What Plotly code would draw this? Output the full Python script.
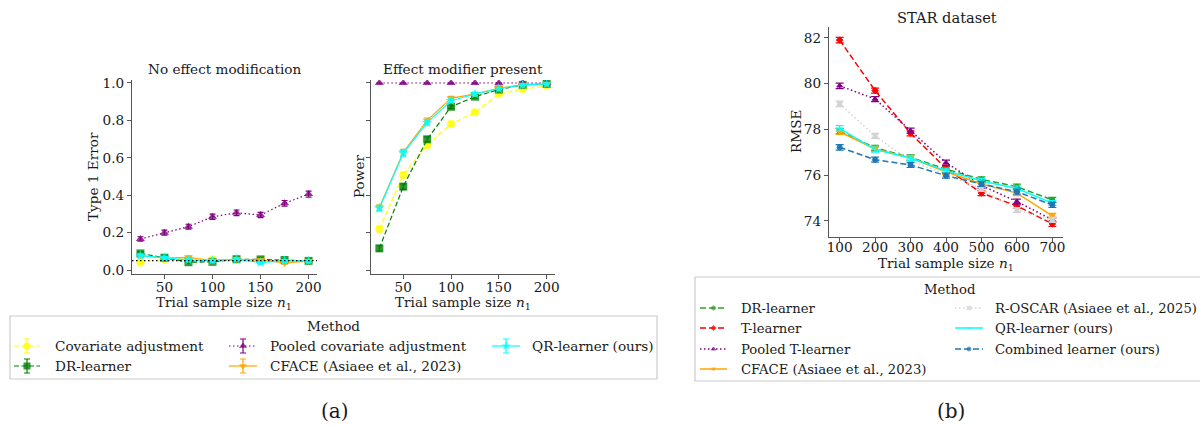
import plotly.graph_objects as go

# ---------------- data ----------------
n1_left = [25, 50, 75, 100, 125, 150, 175, 200]
alpha_level = 0.05

t1_cov = [0.041, 0.058, 0.060, 0.056, 0.057, 0.052, 0.050, 0.048]
t1_dr = [0.089, 0.066, 0.042, 0.044, 0.058, 0.057, 0.054, 0.049]
t1_pooled = [0.166, 0.200, 0.232, 0.285, 0.306, 0.294, 0.357, 0.406]
t1_cface = [0.077, 0.064, 0.068, 0.050, 0.057, 0.054, 0.038, 0.048]
t1_qr = [0.077, 0.066, 0.053, 0.050, 0.058, 0.040, 0.050, 0.049]
t1_err_small = [0.008, 0.007, 0.007, 0.007, 0.007, 0.007, 0.007, 0.007]
t1_err_pooled = [0.012, 0.013, 0.013, 0.014, 0.015, 0.014, 0.015, 0.016]

pow_cov = [0.219, 0.508, 0.668, 0.781, 0.843, 0.940, 0.968, 0.984]
pow_dr = [0.116, 0.446, 0.699, 0.873, 0.927, 0.965, 0.990, 0.995]
pow_pooled = [1.0, 1.0, 1.0, 1.0, 1.0, 1.0, 1.0, 1.0]
pow_cface = [0.335, 0.630, 0.800, 0.918, 0.942, 0.972, 0.990, 0.996]
pow_qr = [0.330, 0.624, 0.788, 0.905, 0.941, 0.970, 0.990, 0.995]
pow_err = [0.014, 0.015, 0.013, 0.010, 0.008, 0.006, 0.004, 0.003]
pow_err_pooled = [0.0, 0.0, 0.0, 0.0, 0.0, 0.0, 0.0, 0.0]

n1_right = [100, 200, 300, 400, 500, 600, 700]
rmse_dr = [77.93, 77.20, 76.78, 76.27, 75.82, 75.50, 74.92]
rmse_t = [81.91, 79.70, 77.83, 76.30, 75.22, 74.66, 73.87]
rmse_pooled = [79.91, 79.33, 77.95, 76.55, 75.55, 74.85, 74.05]
rmse_cface = [77.90, 77.15, 76.75, 76.15, 75.62, 75.22, 74.22]
rmse_roscar = [79.12, 77.72, 76.62, 76.05, 75.40, 74.48, 74.05]
rmse_qr = [78.05, 77.12, 76.75, 76.20, 75.75, 75.42, 74.78]
rmse_comb = [77.22, 76.68, 76.45, 75.98, 75.62, 75.28, 74.70]
rmse_err = [0.12, 0.11, 0.11, 0.11, 0.11, 0.11, 0.11]

left_names = ["Covariate adjustment", "DR-learner", "Pooled covariate adjustment",
              "CFACE (Asiaee et al., 2023)", "QR-learner (ours)"]
right_names = ["DR-learner", "T-learner", "Pooled T-learner", "CFACE (Asiaee et al., 2023)",
               "R-OSCAR (Asiaee et al., 2025)", "QR-learner (ours)", "Combined learner (ours)"]

# ---------------- styles ----------------
W, H = 1200, 426
FONT = "DejaVu Serif"
FS = 13.6
FS_LEG_R = 13.2
TXT = "#1a1a1a"
AX = "#555555"


def px(x):
    return x / W


def py(y):
    return 1 - y / H


DASH = "5px,2.5px"
DOT = "1.5px,2.5px"

left_style = [
    dict(color="yellow", symbol="circle", dash=DASH),
    dict(color="green", symbol="square", dash=DASH),
    dict(color="purple", symbol="triangle-up", dash=DOT),
    dict(color="orange", symbol="triangle-down", dash="solid"),
    dict(color="cyan", symbol="star", dash="solid"),
]
right_style = [
    dict(color="#2ca02c", symbol="circle", dash="6px,3px"),
    dict(color="red", symbol="diamond", dash="6px,3px"),
    dict(color="purple", symbol="triangle-up", dash=DOT),
    dict(color="orange", symbol="triangle-down", dash="solid"),
    dict(color="lightgray", symbol="x", dash=DOT),
    dict(color="cyan", symbol="line-ew", dash="solid"),
    dict(color="#1f77b4", symbol="circle", dash="6px,3px"),
]

fig = go.Figure()

t1_series = [(t1_cov, t1_err_small), (t1_dr, t1_err_small), (t1_pooled, t1_err_pooled),
             (t1_cface, t1_err_small), (t1_qr, t1_err_small)]
pow_series = [(pow_cov, pow_err), (pow_dr, pow_err), (pow_pooled, pow_err_pooled),
              (pow_cface, pow_err), (pow_qr, pow_err)]

for (ys, es), st in zip(t1_series, left_style):
    fig.add_trace(go.Scatter(
        x=n1_left, y=ys, mode="lines+markers", xaxis="x", yaxis="y",
        line=dict(color=st["color"], width=1.2, dash=st["dash"]),
        marker=dict(color=st["color"], symbol=st["symbol"], size=8, opacity=0.8,
                    line=dict(width=0)),
        error_y=dict(type="data", array=es, color=st["color"], thickness=1.2, width=3),
        showlegend=False))

for (ys, es), st in zip(pow_series, left_style):
    fig.add_trace(go.Scatter(
        x=n1_left, y=ys, mode="lines+markers", xaxis="x2", yaxis="y2",
        line=dict(color=st["color"], width=1.2, dash=st["dash"]),
        marker=dict(color=st["color"], symbol=st["symbol"], size=8, opacity=0.8,
                    line=dict(width=0)),
        error_y=dict(type="data", array=es, color=st["color"], thickness=1.2, width=3),
        showlegend=False))

rmse_series = [rmse_dr, rmse_t, rmse_pooled, rmse_cface, rmse_roscar, rmse_qr, rmse_comb]
for ys, st in zip(rmse_series, right_style):
    fig.add_trace(go.Scatter(
        x=n1_right, y=ys, mode="lines+markers", xaxis="x3", yaxis="y3",
        line=dict(color=st["color"], width=1.5, dash=st["dash"]),
        marker=dict(color=st["color"], symbol=st["symbol"], size=5,
                    line=dict(width=1, color=st["color"])),
        error_y=dict(type="data", array=rmse_err, color=st["color"], thickness=1.2, width=4),
        showlegend=False))

annotations = []
shapes = []

# reference line at the nominal alpha level in panel 1
shapes.append(dict(type="line", xref="x domain", yref="y", x0=0, x1=1,
                   y0=alpha_level, y1=alpha_level,
                   line=dict(color="black", width=1.2, dash="1.5px,2.5px"), layer="above"))

# legend frames
shapes.append(dict(type="rect", xref="paper", yref="paper", x0=px(10), x1=px(657),
                   y0=py(379), y1=py(316), line=dict(color="#cccccc", width=1.2),
                   fillcolor="rgba(0,0,0,0)", layer="above"))
shapes.append(dict(type="rect", xref="paper", yref="paper", x0=px(695), x1=px(1215),
                   y0=py(381), y1=py(277), line=dict(color="#cccccc", width=1.2),
                   fillcolor="rgba(0,0,0,0)", layer="above"))

# ---------------- legends (drawn on a pixel overlay axis) ----------------
legend_left_cols = [(14, 40, 53), (229, 257, 268), (492, 520, 530)]
legend_left_rows = [346, 366]
left_slots = [(0, 0), (0, 1), (1, 0), (1, 1), (2, 0)]

for name, st, (ci, ri) in zip(left_names, left_style, left_slots):
    x0, x1, xt = legend_left_cols[ci]
    yy = legend_left_rows[ri]
    fig.add_trace(go.Scatter(x=[x0, x1], y=[yy, yy], mode="lines", xaxis="x4", yaxis="y4",
                             line=dict(color=st["color"], width=1.2, dash=st["dash"]),
                             showlegend=False, hoverinfo="skip"))
    fig.add_trace(go.Scatter(x=[(x0 + x1) / 2], y=[yy], mode="markers", xaxis="x4", yaxis="y4",
                             marker=dict(color=st["color"], symbol=st["symbol"], size=7,
                                         opacity=0.8, line=dict(width=0)),
                             error_y=dict(type="data", array=[7], color=st["color"],
                                          thickness=1.2, width=3),
                             showlegend=False, hoverinfo="skip"))
    annotations.append(dict(x=px(xt), y=py(yy), xref="paper", yref="paper", text=name,
                            showarrow=False, xanchor="left", yanchor="middle",
                            font=dict(family=FONT, size=FS, color=TXT)))

annotations.append(dict(x=px(333), y=py(326), xref="paper", yref="paper", text="Method",
                        showarrow=False, xanchor="center", yanchor="middle",
                        font=dict(family=FONT, size=FS, color=TXT)))

legend_right_cols = [(700, 727, 739), (955, 983, 993)]
legend_right_rows = [308, 328, 349, 369]
right_slots = [(0, 0), (0, 1), (0, 2), (0, 3), (1, 0), (1, 1), (1, 2)]
for name, st, (ci, ri) in zip(right_names, right_style, right_slots):
    x0, x1, xt = legend_right_cols[ci]
    yy = legend_right_rows[ri]
    fig.add_trace(go.Scatter(x=[x0, (x0 + x1) / 2, x1], y=[yy, yy, yy], mode="lines+markers",
                             xaxis="x4", yaxis="y4",
                             line=dict(color=st["color"], width=1.5, dash=st["dash"]),
                             marker=dict(color=st["color"], symbol=st["symbol"], size=[0, 4, 0],
                                         line=dict(width=1, color=st["color"])),
                             showlegend=False, hoverinfo="skip"))
    annotations.append(dict(x=px(xt), y=py(yy), xref="paper", yref="paper", text=name,
                            showarrow=False, xanchor="left", yanchor="middle",
                            font=dict(family=FONT, size=FS_LEG_R, color=TXT)))

annotations.append(dict(x=px(950), y=py(289), xref="paper", yref="paper", text="Method",
                        showarrow=False, xanchor="center", yanchor="middle",
                        font=dict(family=FONT, size=FS_LEG_R, color=TXT)))

# ---------------- titles / axis labels ----------------
xlab = "Trial sample size <i>n</i><sub>1</sub>"
texts = [
    ("No effect modification", 224, 69, 0, FS),
    ("Effect modifier present", 463, 69, 0, FS),
    ("STAR dataset", 947, 17, 0, 14.6),
    (xlab, 224, 303, 0, FS),
    (xlab, 463, 303, 0, FS),
    (xlab, 946, 264, 0, FS),
    ("Type 1 Error", 93, 177, -90, FS),
    ("Power", 359, 177, -90, FS),
    ("RMSE", 796, 132, -90, FS),
]
for t, x, y, ang, fs in texts:
    annotations.append(dict(x=px(x), y=py(y), xref="paper", yref="paper", text=t,
                            showarrow=False, xanchor="center", yanchor="middle",
                            textangle=ang, font=dict(family=FONT, size=fs, color=TXT)))

for t, x in [("(a)", 335), ("(b)", 951)]:
    annotations.append(dict(x=px(x), y=py(411), xref="paper", yref="paper", text=t,
                            showarrow=False, xanchor="center", yanchor="middle",
                            font=dict(family=FONT, size=20, color=TXT)))

common_axis = dict(showline=True, linecolor=AX, linewidth=1.3, ticks="outside",
                   ticklen=4, tickwidth=1.2, tickcolor=AX, showgrid=False, zeroline=False,
                   automargin=False,
                   tickfont=dict(family=FONT, size=FS, color=TXT), mirror=False)

ydom_left = [py(274), py(80)]
fig.update_layout(
    template="none",
    width=W, height=H, margin=dict(l=0, r=0, t=0, b=0, pad=0, autoexpand=False),
    paper_bgcolor="white", plot_bgcolor="rgba(0,0,0,0)", showlegend=False,
    xaxis=dict(domain=[px(132), px(317)], range=[16.25, 208.75], tickvals=[50, 100, 150, 200],
               anchor="y", ticklabelstandoff=-3, **common_axis),
    yaxis=dict(domain=ydom_left, range=[-0.021, 1.016], tickvals=[0, 0.2, 0.4, 0.6, 0.8, 1.0],
               tickformat=".1f", anchor="x", **common_axis),
    xaxis2=dict(domain=[px(371), px(555)], range=[16.25, 208.75], tickvals=[50, 100, 150, 200],
                anchor="y2", ticklabelstandoff=-3, **common_axis),
    yaxis2=dict(domain=ydom_left, range=[-0.021, 1.016], tickvals=[0, 0.2, 0.4, 0.6, 0.8, 1.0],
                showticklabels=False, anchor="x2", **common_axis),
    xaxis3=dict(domain=[px(829), px(1063)], range=[70, 730],
                tickvals=[100, 200, 300, 400, 500, 600, 700], anchor="y3",
                ticklabelstandoff=-6, **common_axis),
    yaxis3=dict(domain=[py(237), py(27)], range=[73.3, 82.48], tickvals=[74, 76, 78, 80, 82],
                anchor="x3", **common_axis),
    xaxis4=dict(domain=[0, 1], range=[0, W], visible=False, anchor="y4", fixedrange=True,
                automargin=False),
    yaxis4=dict(domain=[0, 1], range=[H, 0], visible=False, anchor="x4", fixedrange=True,
                automargin=False),
)
fig.layout.annotations = annotations
fig.layout.shapes = shapes

fig.write_html("out.html", config={"displayModeBar": False},
               post_script="document.body.style.margin='0';document.body.style.padding='0';")
